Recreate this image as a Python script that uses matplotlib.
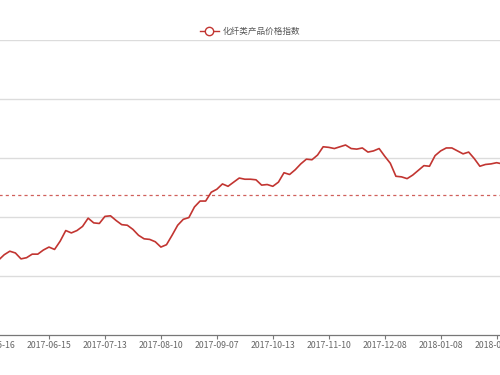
import numpy as np
import matplotlib
matplotlib.use('Agg')
import matplotlib.pyplot as plt
from matplotlib.lines import Line2D

plt.rcParams['font.family'] = ['Noto Sans CJK SC', 'DejaVu Sans']

# index series, one value every two trading days
index_vals = [82.4, 82.7, 83.6, 84.2, 83.9, 82.9, 83.1, 83.7, 83.7, 84.4,
              84.9, 84.5, 85.9, 87.7, 87.3, 87.7, 88.4, 89.8, 89.0, 88.9,
              90.1, 90.2, 89.4, 88.7, 88.6, 87.9, 86.9, 86.3, 86.2, 85.8,
              84.9, 85.3, 86.9, 88.6, 89.6, 89.9, 91.7, 92.7, 92.7, 94.2,
              94.7, 95.6, 95.2, 95.9, 96.6, 96.4, 96.4, 96.3, 95.4, 95.5,
              95.2, 95.9, 97.5, 97.2, 98.0, 99.0, 99.8, 99.7, 100.5, 101.9,
              101.8, 101.6, 101.9, 102.2, 101.6, 101.5, 101.7, 101.0, 101.2, 101.6,
              100.3, 99.1, 96.9, 96.8, 96.5, 97.1, 97.9, 98.7, 98.6, 100.4,
              101.2, 101.7, 101.7, 101.2, 100.7, 101.0, 99.9, 98.6, 98.9, 99.0,
              99.2, 99.0]
tick_dates = ['2017-05-16', '2017-06-15', '2017-07-13', '2017-08-10', '2017-09-07',
              '2017-10-13', '2017-11-10', '2017-12-08', '2018-01-08', '2018-02-05']
mean_val = 93.7
series_name = '化纤类产品价格指数'

red = '#c23531'

fig = plt.figure(figsize=(5, 3.75), dpi=100)
# axes wider than the figure: the reference is a crop of a wider chart
ax = fig.add_axes([-0.1259, 0.1067, 1.2311, 0.7867])

x = np.arange(len(index_vals))
ax.plot(x, index_vals, color=red, lw=1.2, zorder=3)
ax.axhline(mean_val, color='#d0605c', lw=0.9, ls=(0, (2.5, 2.5)), zorder=2)

ax.set_xlim(-10, 100)
ax.set_ylim(70, 120)
ax.set_yticks([80, 90, 100, 110, 120])
ax.yaxis.grid(True, color='#dcdcdc', lw=1)
ax.set_axisbelow(True)
ax.tick_params(axis='y', length=0, labelleft=False)

ax.set_xticks(np.arange(0, 100, 10))
ax.set_xticklabels(tick_dates)
ax.tick_params(axis='x', length=3, width=0.8, color='#777777', labelcolor='#666666',
               labelsize=6.3, pad=1)

for s in ['top', 'left', 'right']:
    ax.spines[s].set_visible(False)
ax.spines['bottom'].set_color('#777777')
ax.spines['bottom'].set_linewidth(0.9)

handle = Line2D([], [], color=red, lw=1.0, marker='o', markersize=6,
                markerfacecolor='white', markeredgecolor=red)
fig.legend([handle], [series_name], loc='center', bbox_to_anchor=(0.5, 0.917),
           frameon=False, fontsize=6.2, handlelength=2.2, handletextpad=0.5,
           labelcolor='#555555')

fig.savefig('out.png', dpi=100)
